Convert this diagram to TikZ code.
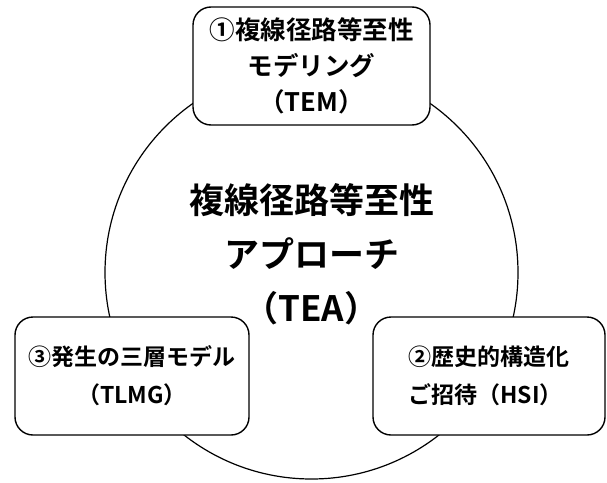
\documentclass[tikz,border=0pt]{standalone}
\usepackage{fontspec}
\setmainfont{Noto Sans CJK JP}[BoldFont={Noto Sans CJK JP Bold}]
\begin{document}
\begin{tikzpicture}[x=1pt,y=-1pt,
  ring/.style={circle,draw,line width=1.2pt,minimum size=413pt,inner sep=0pt},
  boxnode/.style={draw,fill=white,line width=1.4pt,rounded corners=18pt,inner sep=0pt},
  boxtext/.style={font=\bfseries\fontsize{23}{38}\selectfont},
]
\useasboundingbox (0,0) rectangle (607,482);
\node[ring] (c) at (311.5,272.5) {};
\node[font=\bfseries\fontsize{35}{54}\selectfont,align=center] (tea) at (311.5,254)
  {複線径路等至性\\アプローチ\\（TEA）};
\node[boxnode,minimum width=237pt,minimum height=118pt,
  font=\bfseries\fontsize{25.5}{36}\selectfont,align=center] (tem) at (311.5,66)
  {①複線径路等至性\\モデリング\\（TEM）};
\node[boxnode,boxtext,minimum width=234pt,minimum height=118pt,align=center] (tlmg) at (132,376)
  {③発生の三層モデル\\（TLMG）};
\node[boxnode,boxtext,minimum width=232pt,minimum height=118pt,align=left] (hsi) at (489,376)
  {②歴史的構造化\\ご招待（HSI）};
\end{tikzpicture}
\end{document}
